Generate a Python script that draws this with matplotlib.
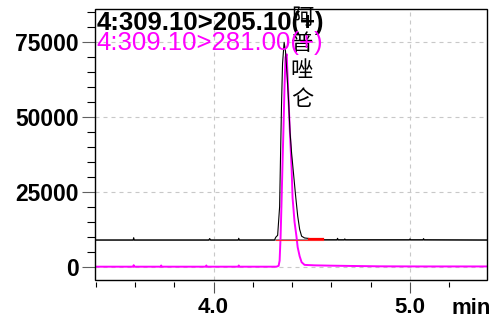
import matplotlib
matplotlib.use("Agg")
import matplotlib.pyplot as plt
from matplotlib.ticker import MultipleLocator, FixedLocator
from matplotlib.patches import Rectangle

# ---------------- data ----------------
black_t = [3.396, 3.590, 3.593, 3.596, 3.975, 3.980, 3.985, 4.125, 4.128, 4.131,
           4.310, 4.316, 4.326, 4.336, 4.341, 4.346, 4.351, 4.359, 4.366, 4.374,
           4.382, 4.389, 4.397, 4.407, 4.417, 4.428, 4.438, 4.448, 4.463, 4.489,
           4.514, 4.539, 4.565, 4.628, 4.631, 4.634, 4.665, 4.668, 4.671, 4.997,
           5.000, 5.003, 5.066, 5.069, 5.072, 5.392]
black_v = [8900, 8900, 9700, 8900, 8900, 9400, 8900, 8900, 9500, 8900,
           8900, 9800, 10500, 20000, 38000, 55000, 68000, 75000, 72000, 64000,
           55000, 45000, 38000, 31000, 24000, 17000, 12500, 10200, 9600, 9400,
           9300, 9200, 9000, 9000, 9500, 9000, 9000, 9300, 9000, 9000,
           9300, 9000, 9000, 9400, 9000, 8900]

magenta_t = [3.396, 3.590, 3.593, 3.596, 3.730, 3.733, 3.736, 3.960, 3.963, 3.966,
             4.125, 4.128, 4.131, 4.320, 4.331, 4.336, 4.341, 4.346, 4.351, 4.356,
             4.361, 4.366, 4.372, 4.377, 4.382, 4.387, 4.397, 4.402, 4.412, 4.422,
             4.428, 4.438, 4.448, 4.463, 4.514, 4.590, 4.692, 4.845, 5.048, 5.392]
magenta_v = [0, 0, 500, 0, 0, 400, 0, 0, 400, 0,
             0, 400, 0, 0, 300, 2000, 10000, 22000, 35000, 47000,
             60000, 70000, 71000, 63000, 55000, 47000, 33000, 23000, 15000, 10000,
             6500, 3500, 1500, 600, 450, 350, 250, 120, 80, 80]

baseline_level = 8900
red_t = [4.316, 4.555]
red_v = [8900, 8900]
red_mark_t = [4.485, 4.555]
red_mark_v = [9300, 9300]

x_major = [4.0, 5.0]
x_major_labels = ["4.0", "5.0"]
y_major = [0, 25000, 50000, 75000]
y_major_labels = ["0", "25000", "50000", "75000"]

label_black = "4:309.10>205.10(+)"
label_magenta = "4:309.10>281.00(+)"
peak_name = ["阿", "普", "唑", "仑"]
x_unit = "min"

# ---------------- figure ----------------
fig = plt.figure(figsize=(4.93, 3.20), dpi=100)
ax = fig.add_axes([95/493, 40/320, 392/493, 271/320])
ax.set_xlim(3.396, 5.392)
ax.set_ylim(-4450, 86130)

grid_kw = dict(color="#c8c8c8", lw=0.8, ls=(0, (3.6, 3.6)), zorder=0)
for xv in x_major:
    ax.axvline(xv, **grid_kw)
for yv in y_major:
    ax.axhline(yv, **grid_kw)

ax.axhline(baseline_level, color="#707070", lw=1.1, zorder=1)
ax.plot(magenta_t, magenta_v, color="#ff00ff", lw=1.4, zorder=3)
ax.plot(black_t, black_v, color="black", lw=0.8, zorder=4)
ax.plot(red_t, red_v, color="#ff3030", lw=0.8, zorder=5)
ax.plot(red_mark_t, red_mark_v, color="#ff0000", lw=1.6, zorder=5)

# frame
for s in ax.spines.values():
    s.set_visible(False)
ax.spines["bottom"].set_position(("outward", 1.5))
ax.add_patch(Rectangle((0, 0), 1, 1, transform=ax.transAxes, fill=False,
                       ec="black", lw=1.0, zorder=10, clip_on=False))

font = "Liberation Sans"
ax.xaxis.set_major_locator(FixedLocator(x_major))
ax.set_xticklabels(x_major_labels, fontsize=16, fontweight="bold", family=font)
ax.xaxis.set_minor_locator(MultipleLocator(0.2))
ax.yaxis.set_major_locator(FixedLocator(y_major))
ax.set_yticklabels(y_major_labels, fontsize=16.5, fontweight="bold", family=font)
ax.yaxis.set_minor_locator(MultipleLocator(5000))

ax.tick_params(axis="x", which="major", direction="out", length=8, width=0.8,
               color="#505050", pad=2.5)
ax.tick_params(axis="x", which="minor", direction="out", length=3.8, width=0.8,
               color="black")
ax.tick_params(axis="y", which="major", direction="out", length=9.5, width=0.8,
               color="#606060", pad=2)
ax.tick_params(axis="y", which="minor", direction="out", length=6, width=0.8,
               color="black")

ax.text((471 - 95) / 392, -(298 - 280) / 271, x_unit, transform=ax.transAxes,
        ha="center", va="top", fontsize=16, fontweight="bold", family=font)

ax.text(0.003, (280 - 30) / 271, label_black, transform=ax.transAxes,
        ha="left", va="baseline", fontsize=18.5, fontweight="bold",
        family=font, color="black", zorder=12)
ax.text(0.003, (280 - 50) / 271, label_magenta, transform=ax.transAxes,
        ha="left", va="baseline", fontsize=18.5, family=font,
        color="#ff00ff", zorder=12)

name_y = [18, 44, 71, 99]
for ch, py in zip(peak_name, name_y):
    ax.text((302 - 95) / 392, (280 - py) / 271, ch, transform=ax.transAxes,
            ha="center", va="center", fontsize=16, color="black",
            family=["Noto Sans CJK SC", "DejaVu Sans"], zorder=11)

fig.savefig("out.png", dpi=100)
